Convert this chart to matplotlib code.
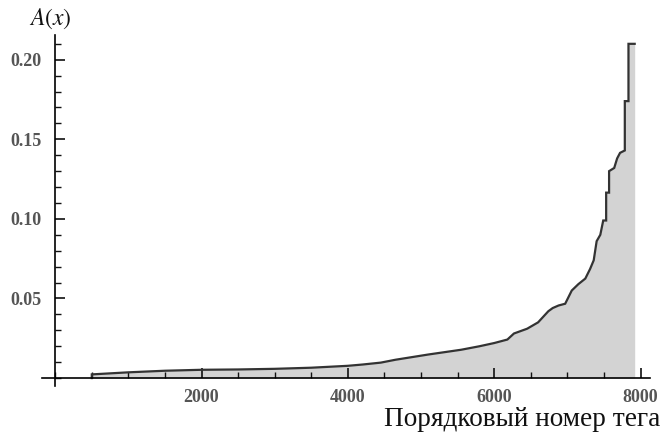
import numpy as np
import matplotlib
matplotlib.use('Agg')
import matplotlib.pyplot as plt
from matplotlib.ticker import FixedLocator, MultipleLocator, FormatStrFormatter

# vertices of the A(x) curve: tag rank and value (repeated ranks are the jumps)
rank = [500, 500, 1000, 1500, 2000, 2500, 3000, 3500, 4000, 4200,
        4450, 4650, 5100, 5550, 5800, 6000, 6180, 6270, 6450, 6600,
        6740, 6800, 6880, 6970, 7060, 7150, 7245, 7310, 7360, 7400,
        7450, 7490, 7530, 7530, 7570, 7570, 7640, 7680, 7720, 7785,
        7785, 7835, 7835, 7920]
a_val = [0.0, 0.0023, 0.0036, 0.0046, 0.0052, 0.0054, 0.0058, 0.0065, 0.0077, 0.0085,
         0.0097, 0.0115, 0.0148, 0.0178, 0.0200, 0.0220, 0.0242, 0.0280, 0.0310, 0.0350,
         0.0420, 0.0440, 0.0456, 0.0467, 0.0550, 0.0590, 0.0625, 0.0685, 0.0740, 0.0860,
         0.0900, 0.0990, 0.0990, 0.1165, 0.1165, 0.1300, 0.1320, 0.1380, 0.1415, 0.1430,
         0.1740, 0.1740, 0.2100, 0.2100]

x_major = [2000, 4000, 6000, 8000]
y_major = [0.05, 0.10, 0.15, 0.20]
x_label = 'Порядковый номер тега'
y_label = '$A(x)$'

plt.rcParams['mathtext.fontset'] = 'stix'

fig = plt.figure(figsize=(6.64, 4.33), dpi=100)
ax = fig.add_axes([0.0633, 0.1085, 0.9157, 0.8105])

x = np.array(rank)
y = np.array(a_val)
ax.fill_between(x, 0, y, color='#d3d3d3', lw=0)
ax.plot(x, y, color='#333333', lw=1.6, solid_joinstyle='miter')

ax.set_xlim(-180, 8130)
ax.set_ylim(-0.005, 0.2155)

# axes cross at the origin
for side in ['top', 'right']:
    ax.spines[side].set_visible(False)
ax.spines['left'].set_position(('data', 0))
ax.spines['bottom'].set_position(('data', 0))
ax.spines['left'].set_linewidth(1.2)
ax.spines['bottom'].set_linewidth(1.2)

ax.xaxis.set_major_locator(FixedLocator(x_major))
ax.xaxis.set_minor_locator(MultipleLocator(500))
ax.yaxis.set_major_locator(FixedLocator(y_major))
ax.yaxis.set_minor_locator(MultipleLocator(0.01))
ax.yaxis.set_major_formatter(FormatStrFormatter('%.2f'))

ax.tick_params(which='both', direction='in', color='#111111')
ax.tick_params(which='major', length=7, width=1.2)
ax.tick_params(which='minor', length=4, width=1.0)
ax.tick_params(axis='x', pad=8)
ax.tick_params(axis='y', pad=10)
for lab in ax.get_xticklabels() + ax.get_yticklabels():
    lab.set_fontfamily('Liberation Serif')
    lab.set_fontweight('bold')
    lab.set_fontsize(13)
    lab.set_color('#555555')

fig.text(50 / 664, 1 - 19 / 433, y_label, fontsize=17, ha='center', va='center', color='#111111')
fig.text(660 / 664, 1 - 426 / 433, x_label, fontsize=19.6, ha='right', va='baseline',
         family='Liberation Serif', color='#111111')

fig.savefig('out.png', dpi=100)
